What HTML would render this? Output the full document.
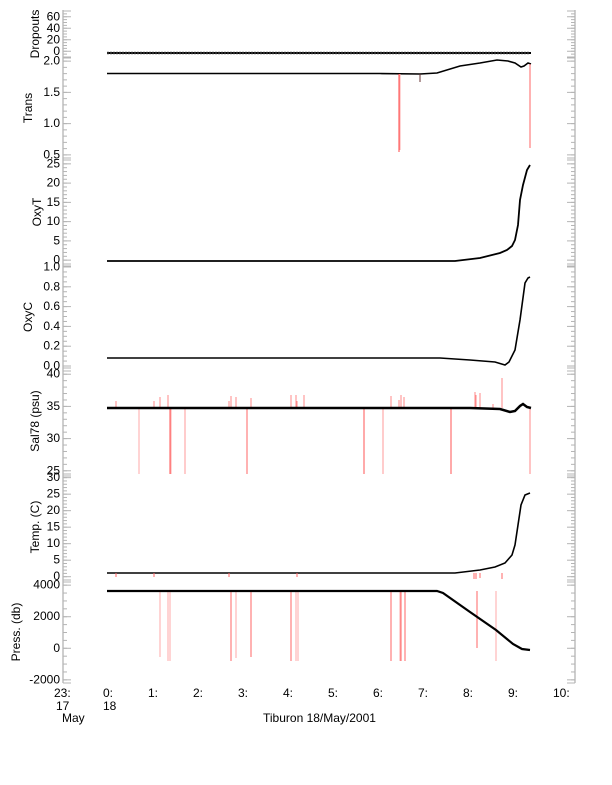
<!DOCTYPE html>
<html><head><meta charset="utf-8"><style>
html,body{margin:0;padding:0;background:#fff;width:612px;height:785px;overflow:hidden}
svg{display:block;font-family:"Liberation Sans",sans-serif}
text{font-size:12px;fill:#000}
</style></head><body>
<svg width="612" height="785" viewBox="0 0 612 785" xmlns="http://www.w3.org/2000/svg">
<g stroke="#b4b4b4" stroke-width="1.3" fill="none">
<line x1="63" y1="10" x2="63" y2="683"/>
<line x1="575" y1="10" x2="575" y2="683"/>
</g>
<g id="ticks" stroke="#b4b4b4" stroke-width="1"></g>
<g id="labels" text-anchor="end"></g>
<g id="data"></g>
<g>
<text x="54" y="697">23:</text><text x="56" y="710">17</text><text x="62" y="722">May</text>
<text x="103" y="697">0:</text><text x="103" y="710">18</text>
<text x="148" y="697">1:</text><text x="193" y="697">2:</text><text x="238" y="697">3:</text>
<text x="283" y="697">4:</text><text x="328" y="697">5:</text><text x="373" y="697">6:</text>
<text x="418" y="697">7:</text><text x="463" y="697">8:</text><text x="508" y="697">9:</text>
<text x="553" y="697">10:</text>
<text x="263" y="722">Tiburon 18/May/2001</text>
</g>
<g font-size="12">
<text transform="translate(39,34) rotate(-90)" text-anchor="middle">Dropouts</text>
<text transform="translate(32,108) rotate(-90)" text-anchor="middle">Trans</text>
<text transform="translate(41,212) rotate(-90)" text-anchor="middle">OxyT</text>
<text transform="translate(32,317) rotate(-90)" text-anchor="middle">OxyC</text>
<text transform="translate(39,421) rotate(-90)" text-anchor="middle">Sal78 (psu)</text>
<text transform="translate(39,527) rotate(-90)" text-anchor="middle">Temp. (C)</text>
<text transform="translate(20,632) rotate(-90)" text-anchor="middle">Press. (db)</text>
</g>
<script>
var NS="http://www.w3.org/2000/svg";
function el(p,t,a,txt){var e=document.createElementNS(NS,t);for(var k in a)e.setAttribute(k,a[k]);if(txt!==undefined)e.textContent=txt;document.getElementById(p).appendChild(e);return e;}
var P=[
 {t:11,b:57,v0:-10,v1:70,maj:[0,20,40,60],mn:5},
 {t:58,b:158,v0:0.45,v1:2.05,maj:[0.5,1.0,1.5,2.0],mn:0.1,f:1},
 {t:160,b:264,v0:-1,v1:26,maj:[0,5,10,15,20,25],mn:1},
 {t:266,b:368,v0:-0.02,v1:1.01,maj:[0.0,0.2,0.4,0.6,0.8,1.0],mn:0.05,f:1},
 {t:371,b:474,v0:24.5,v1:40.5,maj:[25,30,35,40],mn:1},
 {t:476,b:580,v0:-1,v1:30.5,maj:[0,5,10,15,20,25,30],mn:1},
 {t:582,b:683,v0:-2200,v1:4200,maj:[-2000,0,2000,4000],mn:500}
];
function Y(p,v){return p.b-(v-p.v0)/(p.v1-p.v0)*(p.b-p.t);}
P.forEach(function(p){
 el("ticks","line",{x1:63,x2:71,y1:p.t,y2:p.t});el("ticks","line",{x1:567,x2:575,y1:p.t,y2:p.t});
 el("ticks","line",{x1:63,x2:71,y1:p.b,y2:p.b});el("ticks","line",{x1:567,x2:575,y1:p.b,y2:p.b});
 for(var v=Math.ceil(p.v0/p.mn-1e-9)*p.mn;v<=p.v1+1e-9;v+=p.mn){var y=Y(p,v);el("ticks","line",{x1:63,x2:67,y1:y,y2:y});el("ticks","line",{x1:571,x2:575,y1:y,y2:y});}
 p.maj.forEach(function(v){var y=Y(p,v);el("ticks","line",{x1:63,x2:71,y1:y,y2:y});el("ticks","line",{x1:567,x2:575,y1:y,y2:y});
  el("labels","text",{x:60,y:y+3.5},p.f?v.toFixed(1):String(v));});
});
function line(pts,w){el("data","polyline",{points:pts.map(function(q){return q[0]+","+q[1]}).join(" "),fill:"none",stroke:"#000","stroke-width":w||1.5});}
function spike(x,y1,y2,c){el("data","line",{x1:x,x2:x,y1:y1,y2:y2,stroke:c||"#f66","stroke-width":1});}
line([[107,53],[531,53]],2);
for(var x=108;x<531;x+=3)spike(x,51.5,54.5,"#555");
line([[107,73.5],[380,73.5],[420,74],[437,73],[460,66],[480,63],[497,60],[508,61],[515,63],[521,67],[524,66],[528,63],[531,64]],1.6);
spike(399,74,152,"#f44");spike(400,74,150,"#faa");spike(420,74,82,"#633");spike(530,64,148,"#f66");
line([[107,261],[455,261],[480,258],[500,253],[507,250],[512,246],[515,240],[518,225],[520,200],[523,185],[527,170],[530,165]],1.8);
line([[107,358],[440,358],[470,360],[495,362],[505,365],[509,362],[515,350],[520,320],[525,283],[528,278],[530,277]],1.6);
[[139,"#faa"],[170,"#f55"],[171,"#faa"],[185,"#f99"],[247,"#f66"],[364,"#f55"],[383,"#f99"],[451,"#f55"],[530,"#f88"]].forEach(function(s){spike(s[0],408,474,s[1]);});
[[116,401],[154,401],[160,397],[168,395],[229,401],[231,396],[236,397],[251,398],[291,395],[296,395],[297,401],[304,395],[391,396],[399,400],[401,395],[404,397],[475,392],[476,395],[480,393],[493,404],[502,378]].forEach(function(s){spike(s[0],408,s[1],"#f88");});
line([[107,408],[470,408],[500,409],[510,412],[515,411],[520,406],[523,404],[527,407],[531,408]],2.5);
line([[107,573],[455,573],[480,570],[495,567],[505,563],[512,555],[515,545],[518,525],[521,505],[525,495],[530,493]],1.6);
[[116,577],[154,577],[229,577],[297,577],[474,579],[476,579],[480,578],[502,579]].forEach(function(s){spike(s[0],573,s[1],"#f66");});
[[160,657],[168,661],[170,661],[231,661],[236,658],[251,657],[291,661],[296,661],[298,661],[391,661],[400,661],[401,661],[405,661],[477,648],[496,661]].forEach(function(s){spike(s[0],591,s[1],s[0]%2?"#f66":"#faa");});
line([[107,591],[437,591],[443,593],[470,612],[496,630],[513,644],[522,649],[530,650]],2.2);
</script>
</svg>
</body></html>
